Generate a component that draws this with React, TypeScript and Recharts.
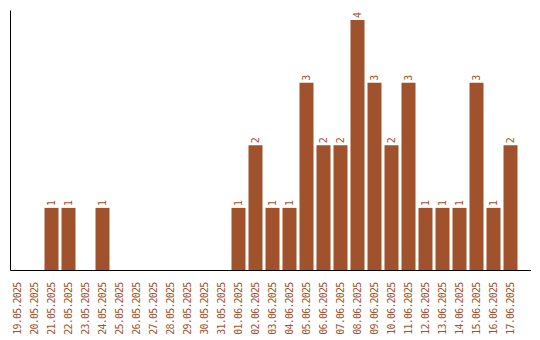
import React from "react";
import { BarChart, Bar, XAxis, YAxis, LabelList } from "recharts";

const dates = [
  "19.05.2025", "20.05.2025", "21.05.2025", "22.05.2025", "23.05.2025",
  "24.05.2025", "25.05.2025", "26.05.2025", "27.05.2025", "28.05.2025",
  "29.05.2025", "30.05.2025", "31.05.2025", "01.06.2025", "02.06.2025",
  "03.06.2025", "04.06.2025", "05.06.2025", "06.06.2025", "07.06.2025",
  "08.06.2025", "09.06.2025", "10.06.2025", "11.06.2025", "12.06.2025",
  "13.06.2025", "14.06.2025", "15.06.2025", "16.06.2025", "17.06.2025",
];
const counts = [
  0, 0, 1, 1, 0, 1, 0, 0, 0, 0, 0, 0, 0, 1, 2,
  1, 1, 3, 2, 2, 4, 3, 2, 3, 1, 1, 1, 3, 1, 2,
];

const data = dates.map((d, i) => ({ date: d, count: counts[i] }));

const COLOR = "#A0522D";
const FONT = "'DejaVu Sans Mono', monospace";

const Tick = (props: any) => {
  const { x, y, payload } = props;
  const ty = y + 12;
  return (
    <text
      x={x}
      y={ty}
      dy="0.35em"
      transform={`rotate(-90, ${x}, ${ty})`}
      textAnchor="end"
      fill={COLOR}
      fontSize={10}
      fontFamily={FONT}
      letterSpacing={-0.8}
    >
      {payload.value}
    </text>
  );
};

const BarLabel = (props: any) => {
  const { x, y, width, value } = props;
  if (!value) return null;
  const cx = x + width / 2;
  const ty = y - 2;
  return (
    <text
      x={cx}
      y={ty}
      dy="0.35em"
      transform={`rotate(-90, ${cx}, ${ty})`}
      textAnchor="start"
      fill={COLOR}
      fontSize={10}
      fontFamily={FONT}
    >
      {value}
    </text>
  );
};

export default function App() {
  return (
    <BarChart
      width={530}
      height={330}
      data={data}
      margin={{ top: 2.5, right: 7, bottom: 0, left: 1.5 }}
      barSize={14}
    >
      <XAxis
        dataKey="date"
        interval={0}
        height={67.5}
        tickSize={0}
        tickMargin={0}
        tickLine={false}
        axisLine={{ stroke: "#000", strokeWidth: 1 }}
        padding={{ left: -2, right: 12.5 }}
        tick={<Tick />}
      />
      <YAxis
        width={1}
        domain={[0, 4.152]}
        tick={false}
        tickLine={false}
        axisLine={{ stroke: "#000", strokeWidth: 1 }}
      />
      <Bar dataKey="count" fill={COLOR} isAnimationActive={false}>
        <LabelList dataKey="count" content={<BarLabel />} />
      </Bar>
    </BarChart>
  );
}
